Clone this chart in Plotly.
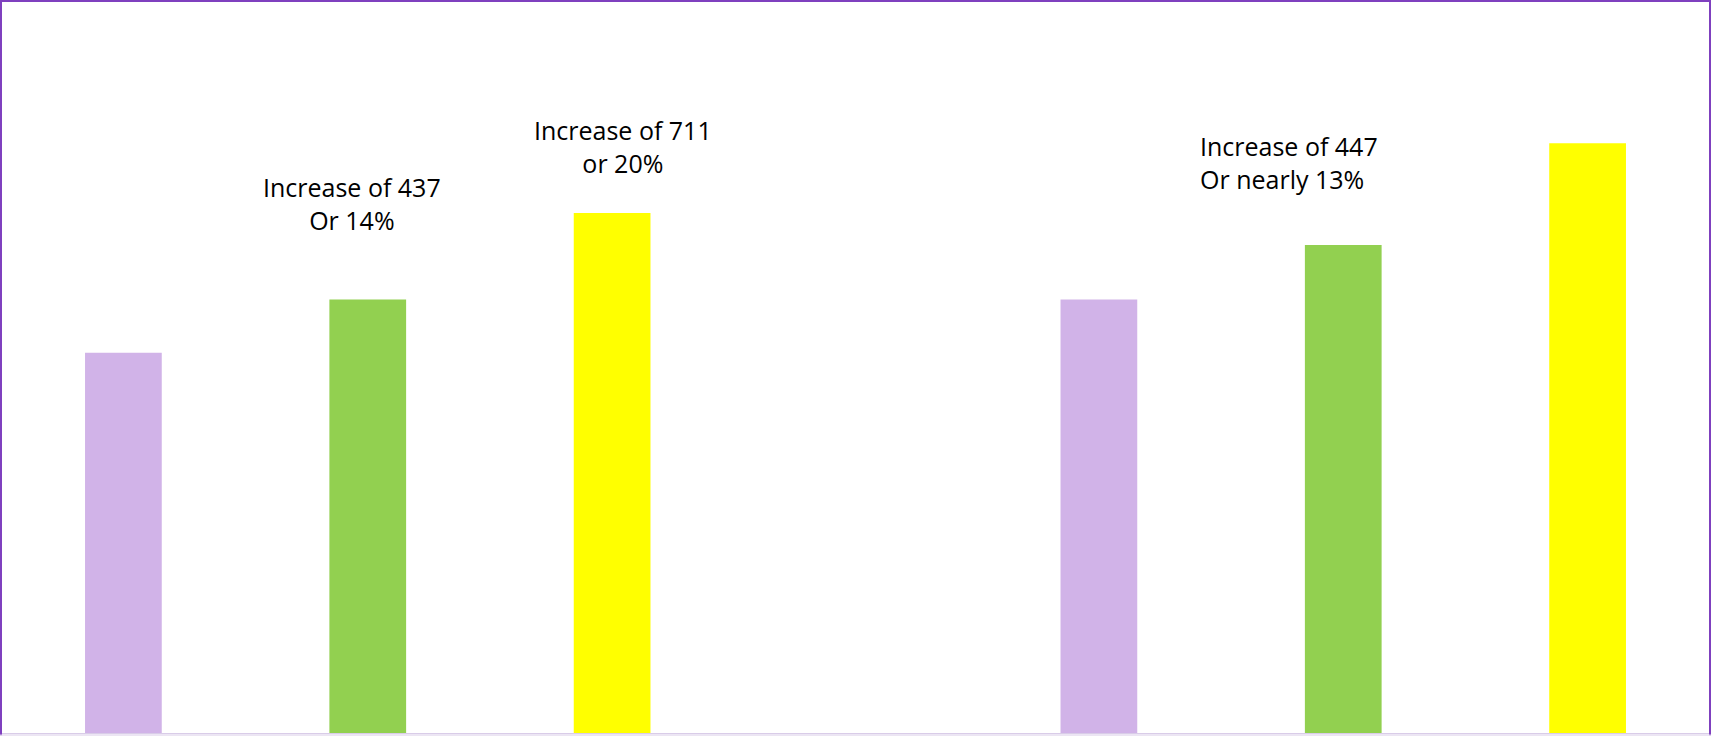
import plotly.graph_objects as go

# Two groups, three series each
groups = ["Group 1", "Group 2"]
series_names = ["Period 1", "Period 2", "Period 3"]
period1 = [3121, 3558]
period2 = [3558, 4005]
period3 = [4269, 4840]
series_values = [period1, period2, period3]
series_colors = ["#D1B3E8", "#92D050", "#FFFF00"]

# Callout texts and where they sit (category position, value)
notes = [
    ("Increase of 437<br>Or 14%", -0.016, 4345, "center"),
    ("Increase of 711<br>or 20%", 0.262, 4813, "center"),
    ("Increase of 447<br>Or nearly 13%", 0.851, 4682, "left"),
]

fig = go.Figure()
for name, vals, col in zip(series_names, series_values, series_colors):
    fig.add_trace(go.Bar(
        x=[0, 1], y=vals, name=name,
        marker=dict(color=col, line=dict(width=0)),
        hoverinfo="x+y+name",
    ))

for text, xpos, ypos, al in notes:
    fig.add_annotation(
        x=xpos, y=ypos, xref="x", yref="y", text=text, showarrow=False,
        align=al, xanchor=al if al != "center" else "center", yanchor="middle",
        font=dict(family="Open Sans", size=25, color="#000000"),
    )

border = "#7F40BF"
fig.update_layout(
    width=1711, height=736,
    margin=dict(l=0, r=0, t=2, b=3),
    paper_bgcolor="#FFFFFF", plot_bgcolor="#FFFFFF",
    barmode="group", bargap=0.2485, bargroupgap=0.686,
    showlegend=False,
    xaxis=dict(range=[-0.377, 1.377], showticklabels=False, showgrid=False,
               zeroline=False, showline=True, linecolor="#D9CCE8", linewidth=1,
               fixedrange=True),
    yaxis=dict(range=[0, 6000], showticklabels=False, showgrid=False,
               zeroline=False, showline=False, fixedrange=True),
    shapes=[
        # frame around the chart
        dict(type="line", xref="paper", yref="paper", x0=0, x1=1,
             y0=732 / 731, y1=732 / 731, line=dict(color=border, width=2)),
        dict(type="line", xref="paper", yref="paper", x0=1 / 1711, x1=1 / 1711,
             y0=-0.003, y1=732 / 731, line=dict(color=border, width=2)),
        dict(type="line", xref="paper", yref="paper", x0=1710 / 1711, x1=1710 / 1711,
             y0=-0.003, y1=732 / 731, line=dict(color=border, width=2)),
        dict(type="line", xref="paper", yref="paper", x0=0, x1=1,
             y0=-2 / 731, y1=-2 / 731, line=dict(color="#D9CCE8", width=1)),
    ],
)

fig.write_html("out.html")
